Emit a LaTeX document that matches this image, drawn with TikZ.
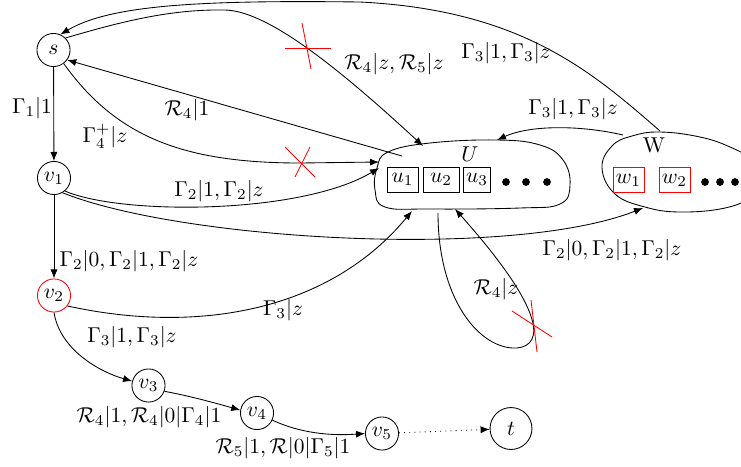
\documentclass[tikz,border=0pt]{standalone}
\usetikzlibrary{shapes, arrows, arrows.meta, positioning}

\begin{document}
\begin{tikzpicture}[x=0.4651pt, y=-0.4651pt,
        state/.style={circle, draw, minimum size=15.4pt, inner sep=0.5pt},
        cell/.style={rectangle, draw, minimum height=11.6pt, inner sep=1pt},
        edge/.style={-{Latex[length=4.2pt, width=3.3pt]}},
        cut/.style={red}
    ]
    \useasboundingbox (0,0) rectangle (741,466);
    \clip (0,0) rectangle (741,466);

    % states
    \node[state] (s) at (53.5,50) {$s$};
    \node[state] (v1) at (54,178) {$v_1$};
    \node[state, draw=red] (v2) at (54,295.5) {$v_2$};
    \node[state] (v3) at (148.5,385.5) {$v_3$};
    \node[state] (v4) at (257,413) {$v_4$};
    \node[state] (v5) at (382,433.5) {$v_5$};
    \node[state, minimum size=19.5pt] (t) at (511,428.5) {$t$};

    % set U
    \draw plot[smooth cycle, tension=0.7] coordinates {(377,168) (388,152) (430,143) (497,140) (540,145) (563,160) (570,185) (560,204) (520,208) (430,209) (385,207) (375,190)};
    \node (Ulabel) at (470,154) {$U$};
    \node[cell, minimum width=14.4pt] (u1) at (402.5,179.5) {$u_1$};
    \node[cell, minimum width=16.7pt] (u2) at (441,179.5) {$u_2$};
    \node[cell, minimum width=12.1pt] (u3) at (477,179.5) {$u_3$};
    \foreach \x in {506,526,547} \fill (\x,182) circle (1.8pt);

    % set W
    \draw plot[smooth cycle, tension=0.7] coordinates {(602,168) (612,146) (632,136) (660,132) (700,137) (730,147) (752,160) (762,178) (752,196) (725,208) (680,212) (645,207) (615,194)};
    \node (Wlabel) at (654,145) {W};
    \node[cell, draw=red, minimum width=14.4pt] (w1) at (628.5,180) {$w_1$};
    \node[cell, draw=red, minimum width=14.4pt] (w2) at (674.5,180) {$w_2$};
    \foreach \x in {705,720,735} \fill (\x,182) circle (1.8pt);

    % ends on the sets
    \coordinate (Ua) at (402,156);
    \coordinate (Ub) at (412,211);
    \coordinate (Uc) at (438,213);
    \coordinate (Ud) at (455,209);
    \coordinate (Ue) at (423,146);
    \coordinate (Uf) at (497,140);
    \coordinate (Ug) at (379,162);
    \coordinate (Uh) at (379,168);
    \coordinate (Wa) at (623,135);
    \coordinate (Wb) at (660,131);
    \coordinate (Wc) at (643,208);

    % path
    \draw[edge] (s) -- (v1);
    \draw[edge] (v1) -- (v2);
    \draw[edge] (v2.south) .. controls (60,350) and (100,372) .. (v3.165);
    \draw[edge] (v3.-20) .. controls (190,396) and (215,403) .. (v4.170);
    \draw[edge] (v4.-25) .. controls (300,433) and (330,436) .. (v5.west);
    \draw[edge, dotted] (v5) -- (t);

    % other connectors
    \draw[edge] (Wb) .. controls (590,70) and (520,10) .. (360,2) .. controls (200,0) and (110,5) .. (s.66);
    \draw[edge] (s.45) .. controls (120,22) and (170,9) .. (225,10) .. controls (265,11) and (330,60) .. (Ue);
    \draw[edge] (Ua) -- (s.-36);
    \draw[edge] (s.-53) .. controls (115,135) and (180,163) .. (300,163) -- (Ug);
    \draw[edge] (v1.-50) .. controls (120,215) and (300,215) .. (Uh);
    \draw[edge] (v1.-60) .. controls (180,240) and (510,260) .. (Wc);
    \draw[edge] (v2.-38) .. controls (200,335) and (330,310) .. (Ub);
    \draw[edge] (Uc) .. controls (438,300) and (480,350) .. (517,348) .. controls (545,345) and (545,310) .. (Ud);
    \draw[edge] (Wa) .. controls (580,125) and (530,125) .. (Uf);

    % cut marks
    \draw[cut] (285,48) -- (331,48);
    \draw[cut] (302,23) -- (311,69);
    \draw[cut] (285,147) -- (315,177);
    \draw[cut] (310,147) -- (295,177);
    \draw[cut] (512,311) -- (552,337);
    \draw[cut] (531,300) -- (537,352);

    % labels
    \node (lgone) at (32,108) {$\Gamma_1|1$};
    \node (lrfour) at (187,110) {$\mathcal{R}_4|1$};
    \node (lgfour) at (105,136) {$\Gamma_4^+|z$};
    \node (lgtwoU) at (219,191) {$\Gamma_2|1, \Gamma_2|z$};
    \node (lrfive) at (394,64) {$\mathcal{R}_4|z, \mathcal{R}_5|z$};
    \node (lgthreetop) at (506,53) {$\Gamma_3|1, \Gamma_3|z$};
    \node (lgthreeW) at (573,109) {$\Gamma_3|1, \Gamma_3|z$};
    \node (lgtwoW) at (612,250) {$\Gamma_2|0, \Gamma_2|1, \Gamma_2|z$};
    \node (lgtwo) at (129,261) {$\Gamma_2|0, \Gamma_2|1, \Gamma_2|z$};
    \node (lgthreeU) at (283,310) {$\Gamma_3|z$};
    \node (lloop) at (496,289) {$\mathcal{R}_4|z$};
    \node (lgthree) at (132,337) {$\Gamma_3|1, \Gamma_3|z$};
    \node (lvthree) at (149,417) {$\mathcal{R}_4|1, \mathcal{R}_4|0|\Gamma_4|1$};
    \node (lvfour) at (283,448) {$\mathcal{R}_5|1, \mathcal{R}|0|\Gamma_5|1$};
\end{tikzpicture}
\end{document}
